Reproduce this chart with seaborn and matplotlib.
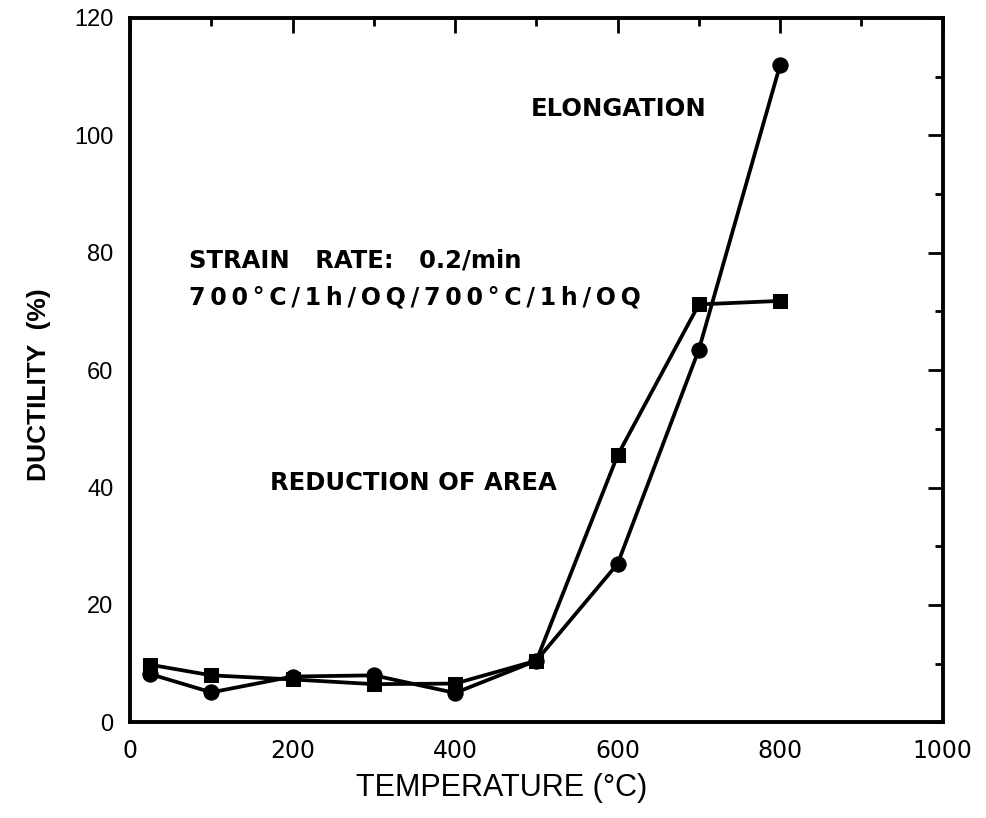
import matplotlib
matplotlib.use("Agg")
import matplotlib.pyplot as plt
from matplotlib.ticker import MultipleLocator
import seaborn as sns
import pandas as pd

# Test temperatures (°C) and measured ductility (%)
temperature = [25, 100, 200, 300, 400, 500, 600, 700, 800]
elongation = [8.2, 5.1, 7.8, 8.0, 5.0, 10.5, 27.0, 63.5, 112.0]
reduction_of_area = [9.8, 8.0, 7.3, 6.5, 6.6, 10.5, 45.5, 71.2, 71.8]

x_ticks = [0, 200, 400, 600, 800, 1000]
y_ticks = [0, 20, 40, 60, 80, 100, 120]

sns.set_theme(style="white")
plt.rcParams["font.family"] = ["Liberation Sans", "DejaVu Sans"]

df = pd.DataFrame({
    "temperature": temperature * 2,
    "ductility": elongation + reduction_of_area,
    "measure": ["Elongation"] * len(temperature) + ["Reduction of area"] * len(temperature),
})

fig = plt.figure(figsize=(9.86, 8.18), dpi=100)
ax = fig.add_axes([0.132, 0.117, 0.824, 0.861])

sns.lineplot(data=df[df.measure == "Elongation"], x="temperature", y="ductility",
             color="black", linewidth=2.7, marker="o", markersize=11,
             markeredgecolor="black", ax=ax)
sns.lineplot(data=df[df.measure == "Reduction of area"], x="temperature", y="ductility",
             color="black", linewidth=2.7, marker="s", markersize=10,
             markeredgecolor="black", ax=ax)

ax.set_xlim(0, 1000)
ax.set_ylim(0, 120)
ax.set_xticks(x_ticks)
ax.set_yticks(y_ticks)
ax.xaxis.set_minor_locator(MultipleLocator(100))
ax.yaxis.set_minor_locator(MultipleLocator(10))
ax.tick_params(which="both", direction="in", top=True, right=True, color="black",
               width=2)
ax.tick_params(which="major", length=11)
ax.tick_params(which="minor", length=6)
ax.tick_params(axis="x", which="major", labelsize=17, pad=12)
ax.tick_params(axis="y", which="major", labelsize=17, pad=12)
for lab in ax.get_xticklabels():
    lab.set_color("black")
    lab.set_fontfamily("DejaVu Sans")
for lab in ax.get_yticklabels():
    lab.set_color("black")

for spine in ax.spines.values():
    spine.set_visible(True)
    spine.set_color("black")
    spine.set_linewidth(2.8)

ax.set_xlabel("TEMPERATURE (°C)", fontsize=22, color="black")
ax.xaxis.set_label_coords(0.4576, -0.0725)
ax.set_ylabel("DUCTILITY  (%)", fontsize=19, fontweight="bold", color="black")
ax.yaxis.set_label_coords(-0.098, 0.479)

txt = dict(fontsize=17.5, fontweight="bold", color="black", ha="left", va="center",
           family=["DejaVu Sans"])
ax.text(493, 104.5, "ELONGATION", **txt)
ax.text(72, 78.7, "STRAIN   RATE:   0.2/min", **txt)
ax.text(72, 72.4, "\u2009".join("700°C/1h/OQ/700°C/1h/OQ"),
        **{**txt, "fontsize": 17})
ax.text(172, 40.7, "REDUCTION OF AREA", **txt)

fig.savefig("out.png", dpi=100, facecolor="white")
